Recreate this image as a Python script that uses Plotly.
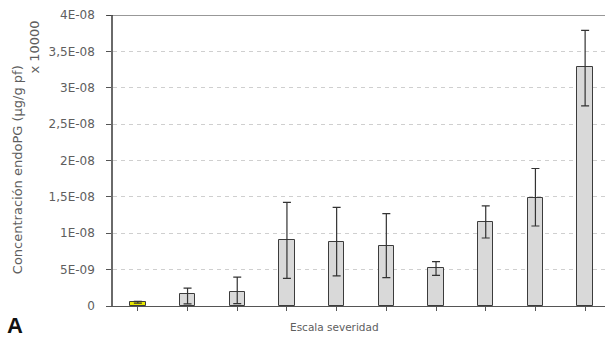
import plotly.graph_objects as go

# Severity scale classes (1..10) and endoPG concentration per class
categories = list(range(10))
values = [0.55e-9, 1.65e-9, 1.97e-9, 9.05e-9, 8.85e-9, 8.3e-9, 5.2e-9, 11.55e-9, 14.9e-9, 32.8e-9]
err_plus = [0.1e-9, 0.8e-9, 2.0e-9, 5.2e-9, 4.7e-9, 4.4e-9, 0.9e-9, 2.2e-9, 4.0e-9, 5.1e-9]
err_minus = [0.15e-9, 1.35e-9, 1.65e-9, 5.25e-9, 4.7e-9, 4.4e-9, 1.0e-9, 2.2e-9, 3.9e-9, 5.3e-9]
bar_colors = ["#e8e800"] + ["#d9d9d9"] * 9

tick_vals = [0, 5e-9, 1e-8, 1.5e-8, 2e-8, 2.5e-8, 3e-8, 3.5e-8, 4e-8]
tick_text = ["0", "5E-09", "1E-08", "1,5E-08", "2E-08", "2,5E-08", "3E-08", "3,5E-08", "4E-08"]

FONT = "DejaVu Sans, sans-serif"
GREY_TXT = "#5e5e5e"

fig = go.Figure()
fig.add_trace(go.Bar(
    x=categories,
    y=values,
    width=0.31,
    marker=dict(color=bar_colors, line=dict(color="#3c3c3c", width=1)),
    error_y=dict(type="data", symmetric=False, array=err_plus, arrayminus=err_minus,
                 color="#333333", thickness=1.2, width=4),
    showlegend=False,
))

fig.update_layout(
    width=605, height=340,
    margin=dict(l=113, r=0, t=15, b=34),
    paper_bgcolor="white", plot_bgcolor="white",
    font=dict(family=FONT, color=GREY_TXT),
    bargap=0,
    xaxis=dict(
        range=[-0.5, 9.4], tickmode="array", tickvals=categories,
        showticklabels=False, ticks="outside", ticklen=4, tickcolor="#555555",
        showline=True, linecolor="#555555", linewidth=1.2,
        showgrid=False, zeroline=False, fixedrange=True,
    ),
    yaxis=dict(
        range=[0, 4e-8], tickmode="array", tickvals=tick_vals, ticktext=tick_text,
        tickfont=dict(size=12, color=GREY_TXT, family=FONT),
        ticks="outside", ticklen=5, tickcolor="#555555", ticklabelstandoff=9,
        showline=True, linecolor="#6a6a6a", linewidth=1.5,
        showgrid=True, gridcolor="#cfcfcf", gridwidth=1, griddash="4px,4px",
        zeroline=False, fixedrange=True,
    ),
)

# solid frame line across the top of the value range
fig.add_shape(type="line", xref="paper", yref="y", x0=-0.012, x1=1, y0=4e-8, y1=4e-8,
              line=dict(color="#333333", width=1.2))

# axis titles and panel letter
fig.add_annotation(text="Concentración endoPG (µg/g pf)", textangle=-90,
                   xref="paper", yref="paper", x=-0.195, y=0.467, xanchor="center", yanchor="middle",
                   showarrow=False, font=dict(size=13, color=GREY_TXT, family=FONT))
fig.add_annotation(text="x 10000", textangle=-90,
                   xref="paper", yref="paper", x=-0.1585, y=0.888, xanchor="center", yanchor="middle",
                   showarrow=False, font=dict(size=13, color=GREY_TXT, family=FONT))
fig.add_annotation(text="Escala severidad", xref="paper", yref="paper",
                   x=0.451, y=-0.072, xanchor="center", yanchor="middle",
                   showarrow=False, font=dict(size=10.5, color=GREY_TXT, family=FONT))
fig.add_annotation(text="<b>A</b>", xref="paper", yref="paper",
                   x=-0.2, y=-0.066, xanchor="center", yanchor="middle",
                   showarrow=False, font=dict(size=22, color="#111111", family="Liberation Sans, Arial, sans-serif"))

fig.write_html("out.html")
